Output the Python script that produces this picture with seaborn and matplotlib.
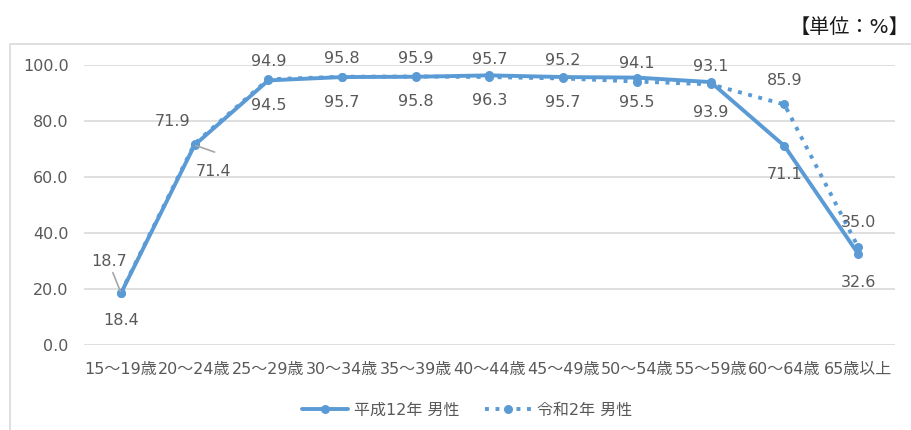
import matplotlib
matplotlib.use("Agg")
import matplotlib.pyplot as plt
import seaborn as sns
import pandas as pd
from matplotlib.patches import Rectangle
from matplotlib.lines import Line2D

# Age groups and labour force participation rates (%)
categories = ["15～19歳", "20～24歳", "25～29歳", "30～34歳", "35～39歳", "40～44歳",
              "45～49歳", "50～54歳", "55～59歳", "60～64歳", "65歳以上"]
h12_male = [18.4, 71.4, 94.5, 95.7, 95.8, 96.3, 95.7, 95.5, 93.9, 71.1, 32.6]
r2_male = [18.7, 71.9, 94.9, 95.8, 95.9, 95.7, 95.2, 94.1, 93.1, 85.9, 35.0]
series_names = ["平成12年 男性", "令和2年 男性"]
y_ticks = [0, 20, 40, 60, 80, 100]

sns.set_theme(style="white")
plt.rcParams["font.family"] = ["DejaVu Sans", "Noto Sans CJK JP"]

BLUE = "#5B9BD5"
TEXT = "#595959"
GRID = "#D9D9D9"
FS = 11.5
LW = 2.8
MS = 6.5
DOTS = (1, 1.7)

df = pd.DataFrame({
    "x": list(range(len(categories))) * 2,
    "value": h12_male + r2_male,
    "series": [series_names[0]] * len(categories) + [series_names[1]] * len(categories),
})

fig = plt.figure(figsize=(9.12, 4.30), dpi=100)
ax = fig.add_axes([84 / 912, 1 - 345 / 430, (895 - 84) / 912, (345 - 65) / 430])

# outer chart frame
fig.patches.append(Rectangle((10 / 912, -0.05), 1.0, 1 - 44 / 430 + 0.05,
                             transform=fig.transFigure, fill=False,
                             edgecolor=GRID, linewidth=1.2, zorder=0))

sns.lineplot(data=df, x="x", y="value", hue="series", style="series",
             palette=[BLUE, BLUE], dashes=[(None, None), DOTS],
             markers=["o", "o"], markersize=MS, markeredgewidth=0,
             linewidth=LW, ax=ax, legend=False, zorder=3)

ax.set_xlim(-0.5, len(categories) - 0.5)
ax.set_ylim(0, 100)
ax.set_yticks(y_ticks)
ax.set_yticklabels([f"{v:.1f}" for v in y_ticks], color=TEXT, fontsize=FS)
ax.set_xticks(range(len(categories)))
ax.set_xticklabels(categories, color=TEXT, fontsize=FS)
ax.tick_params(axis="y", length=0, pad=11)
ax.tick_params(axis="x", length=0, pad=12)
ax.set_xlabel("")
ax.set_ylabel("")
ax.grid(axis="y", color=GRID, linewidth=1.2)
ax.set_axisbelow(True)
for s in ax.spines.values():
    s.set_visible(False)

# data labels: offsets in pixels (dx, dy) for each point
r2_off = [(-12, 31), (-22, 22), (0, 18), (0, 18), (0, 18), (0, 18),
          (0, 18), (0, 18), (0, 18), (0, 24), (0, 24)]
h12_off = [(0, -27), (19, -26), (0, -25), (0, -25), (0, -25), (0, -25),
           (0, -25), (0, -25), (0, -30), (0, -29), (0, -29)]

def put_labels(vals, offs):
    for i, (v, (dx, dy)) in enumerate(zip(vals, offs)):
        ax.annotate(f"{v:.1f}", xy=(i, v), xytext=(dx, dy),
                    textcoords="offset pixels", ha="center", va="center",
                    color=TEXT, fontsize=FS, zorder=5)

put_labels(r2_male, r2_off)
put_labels(h12_male, h12_off)

# leader lines for labels pulled away from their points
ax.annotate("", xy=(0, r2_male[0]), xytext=(-8, 20), textcoords="offset pixels",
            arrowprops=dict(arrowstyle="-", color="#A6A6A6", lw=1.2,
                            shrinkA=0, shrinkB=1))
ax.annotate("", xy=(1, h12_male[1]), xytext=(20, -7), textcoords="offset pixels",
            arrowprops=dict(arrowstyle="-", color="#A6A6A6", lw=1.2,
                            shrinkA=0, shrinkB=1))

# legend
handles = [
    Line2D([], [], color=BLUE, lw=LW, marker="o", markersize=MS, markeredgewidth=0),
    Line2D([], [], color=BLUE, lw=LW, linestyle=(0, DOTS), marker="o",
           markersize=MS, markeredgewidth=0),
]
fig.legend(handles, series_names, loc="center", bbox_to_anchor=(0.512, 1 - 410 / 430),
           ncol=2, frameon=False, fontsize=FS, handlelength=2.9, columnspacing=1.6,
           handletextpad=0.35, labelcolor=TEXT)

fig.text(909 / 912, 1 - 27 / 430, "【単位：%】", ha="right", va="center",
         fontsize=14.5, color="#1a1a1a")

fig.savefig("out.png", dpi=100)
